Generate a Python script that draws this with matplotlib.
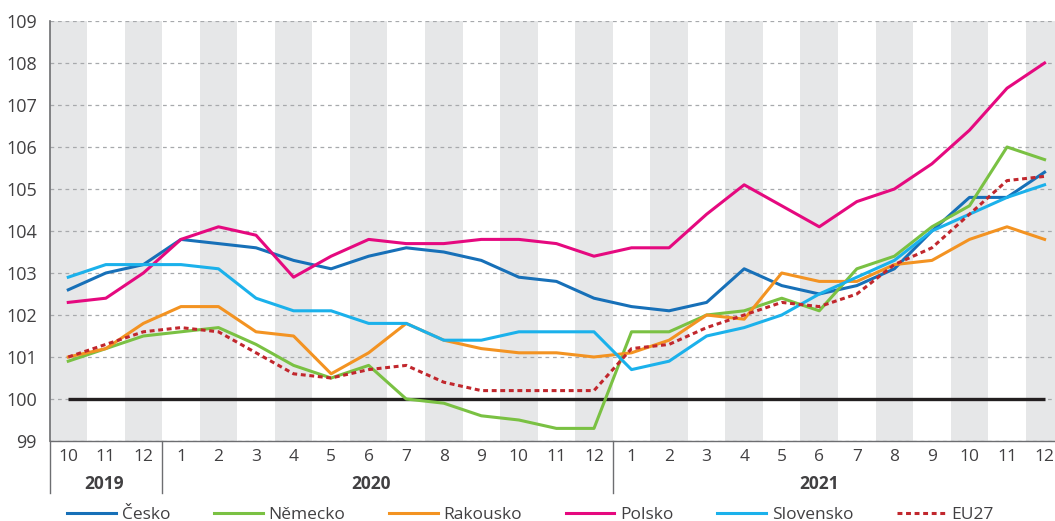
import matplotlib
matplotlib.use("Agg")
import matplotlib.pyplot as plt
import matplotlib.transforms as mtransforms
import numpy as np

plt.rcParams['font.family'] = ['Open Sans', 'DejaVu Sans']

months = ["10", "11", "12",
          "1", "2", "3", "4", "5", "6", "7", "8", "9", "10", "11", "12",
          "1", "2", "3", "4", "5", "6", "7", "8", "9", "10", "11", "12"]
years = ["2019", "2020", "2021"]
year_counts = [3, 12, 12]

cesko = [102.6, 103.0, 103.2, 103.8, 103.7, 103.6, 103.3, 103.1, 103.4, 103.6, 103.5, 103.3, 102.9,
         102.8, 102.4, 102.2, 102.1, 102.3, 103.1, 102.7, 102.5, 102.7, 103.1, 104.0, 104.8, 104.8, 105.4]
nemecko = [100.9, 101.2, 101.5, 101.6, 101.7, 101.3, 100.8, 100.5, 100.8, 100.0, 99.9, 99.6, 99.5,
           99.3, 99.3, 101.6, 101.6, 102.0, 102.1, 102.4, 102.1, 103.1, 103.4, 104.1, 104.6, 106.0, 105.7]
rakousko = [101.0, 101.2, 101.8, 102.2, 102.2, 101.6, 101.5, 100.6, 101.1, 101.8, 101.4, 101.2, 101.1,
            101.1, 101.0, 101.1, 101.4, 102.0, 101.9, 103.0, 102.8, 102.8, 103.2, 103.3, 103.8, 104.1, 103.8]
polsko = [102.3, 102.4, 103.0, 103.8, 104.1, 103.9, 102.9, 103.4, 103.8, 103.7, 103.7, 103.8, 103.8,
          103.7, 103.4, 103.6, 103.6, 104.4, 105.1, 104.6, 104.1, 104.7, 105.0, 105.6, 106.4, 107.4, 108.0]
slovensko = [102.9, 103.2, 103.2, 103.2, 103.1, 102.4, 102.1, 102.1, 101.8, 101.8, 101.4, 101.4, 101.6,
             101.6, 101.6, 100.7, 100.9, 101.5, 101.7, 102.0, 102.5, 102.9, 103.3, 104.0, 104.4, 104.8, 105.1]
eu27 = [101.0, 101.3, 101.6, 101.7, 101.6, 101.1, 100.6, 100.5, 100.7, 100.8, 100.4, 100.2, 100.2,
        100.2, 100.2, 101.2, 101.3, 101.7, 102.0, 102.3, 102.2, 102.5, 103.2, 103.6, 104.4, 105.2, 105.3]
baseline = 100

series = [
    ("Česko", cesko, "#1770B8", "-"),
    ("Německo", nemecko, "#7AC143", "-"),
    ("Rakousko", rakousko, "#F39322", "-"),
    ("Polsko", polsko, "#E5097F", "-"),
    ("Slovensko", slovensko, "#1BB1EB", "-"),
    ("EU27", eu27, "#C1272D", (0, (1.6, 1.2))),
]

W, H = 1055, 521
fig = plt.figure(figsize=(W / 100, H / 100), dpi=100)
left_px, top_px, bottom_px = 49.5, 21, 441
ax = fig.add_axes([left_px / W, 1 - bottom_px / H, 1 - left_px / W, (bottom_px - top_px) / H])

n = len(months)
x = np.arange(n)
step = 37.55
xmax = -0.5 + (W - left_px) / step
ax.set_xlim(-0.5, xmax)
ax.set_ylim(99, 109)

# alternating bands
for i in range(0, n, 2):
    ax.axvspan(i - 0.5, i + 0.5, color="#E6E7E8", lw=0, zorder=0)

# dashed grid
for v in range(99, 110):
    ax.axhline(v, color="#A7A9AC", lw=0.9, ls=(0, (3, 3)), zorder=1)

ax.plot(x, [baseline] * n, color="#231F20", lw=2.4, zorder=2, solid_capstyle="butt")

for name, vals, col, ls in series:
    ax.plot(x, vals, color=col, lw=2.2, ls=ls, label=name, zorder=3)

for s in ["top", "right"]:
    ax.spines[s].set_visible(False)
ax.spines["left"].set_color("#6D6E71")
ax.spines["left"].set_linewidth(1.2)
ax.spines["bottom"].set_color("#6D6E71")
ax.spines["bottom"].set_linewidth(1.0)

text_col = "#414042"
ax.set_yticks(range(99, 110))
ax.tick_params(axis="y", length=0, pad=9, labelsize=13, labelcolor=text_col)
ax.set_xticks(x)
ax.set_xticklabels(months)
ax.tick_params(axis="x", length=0, pad=6, labelsize=12.5, labelcolor=text_col)

trans = mtransforms.blended_transform_factory(ax.transData, ax.transAxes)
# separators
sep_len = (493 - bottom_px) / (bottom_px - top_px)
start = 0
bounds = [start]
for c in year_counts:
    start += c
    bounds.append(start)
for b in bounds[:-1]:
    ax.plot([b - 0.5, b - 0.5], [0, -sep_len], transform=trans, color="#6D6E71", lw=1.0, clip_on=False)

year_y = -(484 - bottom_px) / (bottom_px - top_px)
year_pos = [0.95, 8.05, 20.0]
for yl, xp in zip(years, year_pos):
    ax.text(xp, year_y, yl, transform=trans, ha="center", va="center", fontsize=12.5,
            fontweight="bold", color=text_col)

leg = fig.legend(loc="center", bbox_to_anchor=(0.503, 1 - 515 / H), ncol=6, frameon=False,
                 fontsize=12.5, handlelength=2.8, handletextpad=0.35, columnspacing=2.5)
for t in leg.get_texts():
    t.set_color(text_col)

fig.savefig("out.png", dpi=100)
